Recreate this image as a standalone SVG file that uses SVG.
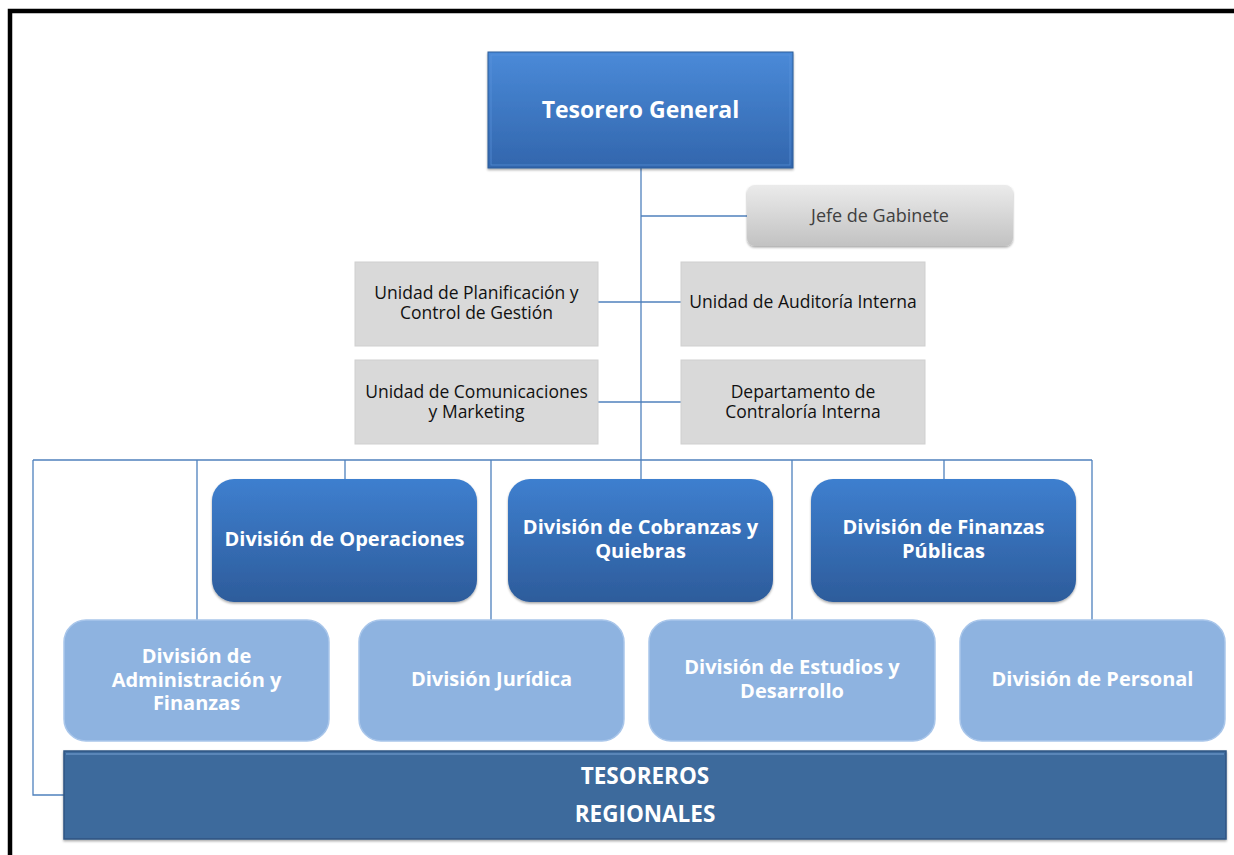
<svg xmlns="http://www.w3.org/2000/svg" width="1234" height="855" viewBox="0 0 1234 855">
<defs>
<linearGradient id="gTop" x1="0" y1="0" x2="0" y2="1"><stop offset="0" stop-color="#4a8ad8"/><stop offset="1" stop-color="#3266ad"/></linearGradient>
<linearGradient id="gDiv" x1="0" y1="0" x2="0" y2="1"><stop offset="0" stop-color="#3e7fcf"/><stop offset="1" stop-color="#2d5c9b"/></linearGradient>
<linearGradient id="gJefe" x1="0" y1="0" x2="0" y2="1"><stop offset="0" stop-color="#ebebeb"/><stop offset="1" stop-color="#c2c2c2"/></linearGradient>
<filter id="sh" x="-5%" y="-5%" width="110%" height="115%"><feDropShadow dx="0" dy="1.5" stdDeviation="1.2" flood-color="#000" flood-opacity="0.35"/></filter>
</defs>
<style>
.conn{fill:none;stroke:#4f81bd;stroke-width:1.3}
.t{font-family:"Open Sans","Liberation Sans",sans-serif;text-anchor:middle}
.w{fill:#fff;font-weight:bold}
.g{fill:#d9d9d9;stroke:#cfcfcf;stroke-width:1}
.gt{fill:#111;font-size:17.5px}
.div{fill:url(#gDiv);filter:url(#sh)}
.lt{fill:#8eb3e0;stroke:#a9c6ea;stroke-width:1.5}
.b{font-size:20px}
</style>
<rect width="1234" height="855" fill="#fff"/>
<path d="M10 855 V11 H1234" fill="none" stroke="#000" stroke-width="4.5"/>
<g id="connectors">
<path class="conn" d="M641 168 V460"/>
<path class="conn" d="M641 216 H747"/>
<path class="conn" d="M598 302 H681"/>
<path class="conn" d="M598 402 H681"/>
<path class="conn" d="M33 460 H1092"/>
<path class="conn" d="M345 460 V479 M641 460 V479 M944 460 V479"/>
<path class="conn" d="M197 460 V620 M491 460 V620 M792 460 V620 M1092 460 V620"/>
<path class="conn" d="M33 460 V795 H64"/>
</g>
<g id="tesorero-general">
<rect x="488" y="52" width="305" height="116" fill="url(#gTop)" stroke="#2c5c9a" stroke-width="1" filter="url(#sh)"/>
<rect x="491" y="55" width="299" height="110" fill="none" stroke="#5d97de" stroke-width="1" opacity="0.6"/>
<text class="t w" x="640.5" y="118" font-size="23">Tesorero General</text>
</g>
<g id="jefe-gabinete">
<rect x="747" y="185" width="266" height="61" rx="8" fill="url(#gJefe)" filter="url(#sh)"/>
<text class="t" x="880" y="222" font-size="18" fill="#404040">Jefe de Gabinete</text>
</g>
<g id="unidad-planificacion">
<rect class="g" x="355" y="262" width="243" height="84"/>
<text class="t gt" x="476.5" y="299">Unidad de Planificación y<tspan x="476.5" dy="20">Control de Gestión</tspan></text>
</g>
<g id="unidad-auditoria">
<rect class="g" x="681" y="262" width="244" height="84"/>
<text class="t gt" x="803" y="308">Unidad de Auditoría Interna</text>
</g>
<g id="unidad-comunicaciones">
<rect class="g" x="355" y="360" width="243" height="84"/>
<text class="t gt" x="476.5" y="398">Unidad de Comunicaciones<tspan x="476.5" dy="20">y Marketing</tspan></text>
</g>
<g id="depto-contraloria">
<rect class="g" x="681" y="360" width="244" height="84"/>
<text class="t gt" x="803" y="398">Departamento de<tspan x="803" dy="20">Contraloría Interna</tspan></text>
</g>
<g id="div-operaciones">
<rect class="div" x="212" y="479" width="265" height="123" rx="22"/>
<text class="t w b" x="344.5" y="546">División de Operaciones</text>
</g>
<g id="div-cobranzas">
<rect class="div" x="508" y="479" width="265" height="123" rx="22"/>
<text class="t w b" x="640.5" y="534">División de Cobranzas y<tspan x="640.5" dy="24">Quiebras</tspan></text>
</g>
<g id="div-finanzas-publicas">
<rect class="div" x="811" y="479" width="265" height="123" rx="22"/>
<text class="t w b" x="943.5" y="534">División de Finanzas<tspan x="943.5" dy="24">Públicas</tspan></text>
</g>
<g id="div-administracion">
<rect class="lt" x="64" y="620" width="265" height="121" rx="22"/>
<text class="t w b" x="196.5" y="663">División de<tspan x="196.5" dy="23.5">Administración y</tspan><tspan x="196.5" dy="23.5">Finanzas</tspan></text>
</g>
<g id="div-juridica">
<rect class="lt" x="359" y="620" width="265" height="121" rx="22"/>
<text class="t w b" x="491.5" y="686">División Jurídica</text>
</g>
<g id="div-estudios">
<rect class="lt" x="649" y="620" width="286" height="121" rx="22"/>
<text class="t w b" x="792" y="674">División de Estudios y<tspan x="792" dy="24">Desarrollo</tspan></text>
</g>
<g id="div-personal">
<rect class="lt" x="960" y="620" width="265" height="121" rx="22"/>
<text class="t w b" x="1092.5" y="686">División de Personal</text>
</g>
<g id="tesoreros-regionales">
<rect x="64" y="751" width="1162" height="88" fill="#3e6a9c" stroke="#2f5582" stroke-width="1.5" filter="url(#sh)"/>
<rect x="66" y="753" width="1158" height="2" fill="#5a86b8"/>
<text class="t w" x="645" y="784" font-size="22.5">TESOREROS<tspan x="645" dy="38">REGIONALES</tspan></text>
</g>
</svg>
